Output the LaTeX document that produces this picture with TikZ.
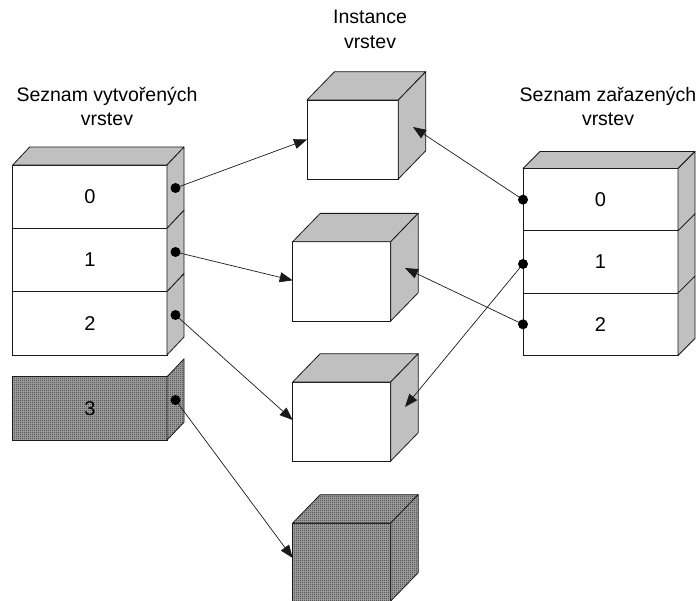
\documentclass[tikz,border=0pt]{standalone}
\usepackage{fontspec}
\setmainfont{Liberation Sans}
\usetikzlibrary{arrows.meta,patterns,calc}
\definecolor{facegray}{HTML}{C0C0C0}
\definecolor{edgecol}{HTML}{1A1A1A}
\definecolor{checklight}{HTML}{A8A8A8}
\definecolor{checkdark}{HTML}{2E2E2E}
\pgfdeclarepatternformonly{finecheck}{\pgfpointorigin}{\pgfpoint{2pt}{2pt}}{\pgfpoint{2pt}{2pt}}{%
  \pgfpathrectangle{\pgfpointorigin}{\pgfpoint{1pt}{1pt}}%
  \pgfpathrectangle{\pgfpoint{1pt}{1pt}}{\pgfpoint{1pt}{1pt}}%
  \pgfusepath{fill}}
\tikzset{
  front/.style={draw=edgecol, line width=0.8pt, fill=white, inner sep=0pt, outer sep=0pt,
    font=\fontsize{20}{24}\selectfont},
  face/.style={draw=edgecol, line width=0.8pt, fill=facegray, line join=round},
  checked/.style={preaction={fill=checklight}, pattern=finecheck, pattern color=checkdark},
  chkfront/.style={front, checked},
  chkface/.style={draw=edgecol, line width=0.8pt, line join=round, checked},
  titletext/.style={anchor=base, inner sep=0pt, font=\fontsize{19.5}{24}\selectfont},
  conn/.style={draw=edgecol, line width=0.7pt, -{Triangle[length=13pt,width=10pt]}},
  dotmark/.style={fill=black},
}
\begin{document}
\begin{tikzpicture}[x=1pt,y=-1pt]
\useasboundingbox (0,0) rectangle (698,601);

% titles
\node[titletext] (tl1) at (107,101.5) {Seznam vytvořených};
\node[titletext] (tl2) at (107,126) {vrstev};
\node[titletext] (ti1) at (370,23.5) {Instance};
\node[titletext] (ti2) at (370,48.5) {vrstev};
\node[titletext] (tr1) at (608,101.5) {Seznam zařazených};
\node[titletext] (tr2) at (608,126) {vrstev};

% left stack
\node[front, minimum width=154.3pt, minimum height=63.33pt] (L0) at (89.85,196.67) {0};
\node[front, minimum width=154.3pt, minimum height=63.33pt] (L1) at (89.85,260) {1};
\node[front, minimum width=154.3pt, minimum height=63.33pt] (L2) at (89.85,323.33) {2};
\node[chkfront, minimum width=154.3pt, minimum height=63.33pt] (L3) at (89.85,408.5) {3};
\path[face] (L0.north west) -- ++(17,-18) -- ++(154.3,0) -- (L0.north east) -- cycle;
\foreach \b in {L0,L1,L2}{
  \path[face] (\b.north east) -- ++(17,-18) -- ++(0,63.33) -- (\b.south east) -- cycle;
}
\path[chkface] (L3.north east) -- ++(17,-18) -- ++(0,63.33) -- (L3.south east) -- cycle;

% right stack
\node[front, minimum width=155pt, minimum height=62.33pt] (R0) at (600.5,199.67) {0};
\node[front, minimum width=155pt, minimum height=62.33pt] (R1) at (600.5,262) {1};
\node[front, minimum width=155pt, minimum height=62.33pt] (R2) at (600.5,324.33) {2};
\path[face] (R0.north west) -- ++(17,-17) -- ++(155,0) -- (R0.north east) -- cycle;
\foreach \b in {R0,R1,R2}{
  \path[face] (\b.north east) -- ++(17,-17) -- ++(0,62.33) -- (\b.south east) -- cycle;
}

% cubes
\node[front, minimum width=91.3pt, minimum height=79pt] (c1) at (352.65,139.5) {};
\node[front, minimum width=98pt, minimum height=79.3pt] (c2) at (341.7,281.35) {};
\node[front, minimum width=98pt, minimum height=79pt] (c3) at (341.7,421.5) {};
\node[chkfront, minimum width=98pt, minimum height=78pt] (c4) at (341.7,562) {};
\foreach \c in {c1,c2,c3}{
  \path[face] (\c.north west) -- ++(27.5,-28.3) -- ($(\c.north east)+(27.5,-28.3)$) -- (\c.north east) -- cycle;
  \path[face] (\c.north east) -- ++(27.5,-28.3) -- ($(\c.south east)+(27.5,-28.3)$) -- (\c.south east) -- cycle;
}
\path[chkface] (c4.north west) -- ++(27.5,-28.3) -- ($(c4.north east)+(27.5,-28.3)$) -- (c4.north east) -- cycle;
\path[chkface] (c4.north east) -- ++(27.5,-28.3) -- ($(c4.south east)+(27.5,-28.3)$) -- (c4.south east) -- cycle;

% connector end points
\coordinate (dl0) at (175.5,188);
\coordinate (dl1) at (175.5,252);
\coordinate (dl2) at (175.5,315);
\coordinate (dl3) at (175.5,400);
\coordinate (dr0) at (R0.west);
\coordinate (dr1) at ([yshift=-2pt]R1.west);
\coordinate (dr2) at (R2.west);
\coordinate (s1) at ([xshift=14.7pt,yshift=12.5pt]c1.east);
\coordinate (s2) at ([xshift=14.3pt,yshift=13.3pt]c2.east);
\coordinate (s3) at ([xshift=14.3pt,yshift=14.5pt]c3.east);

% connectors
\draw[conn] (dl0) -- (c1.west);
\draw[conn] (dl1) -- ([yshift=1pt]c2.west);
\draw[conn] (dl2) -- ([yshift=1.5pt]c3.west);
\draw[conn] (dl3) -- ([yshift=4pt]c4.west);
\draw[conn] (dr0) -- (s1);
\draw[conn] (dr1) -- (s3);
\draw[conn] (dr2) -- (s2);

% dots
\foreach \d in {dl0,dl1,dl2,dl3,dr0,dr1,dr2}{
  \fill[dotmark] (\d) circle (5pt);
}
\end{tikzpicture}
\end{document}
